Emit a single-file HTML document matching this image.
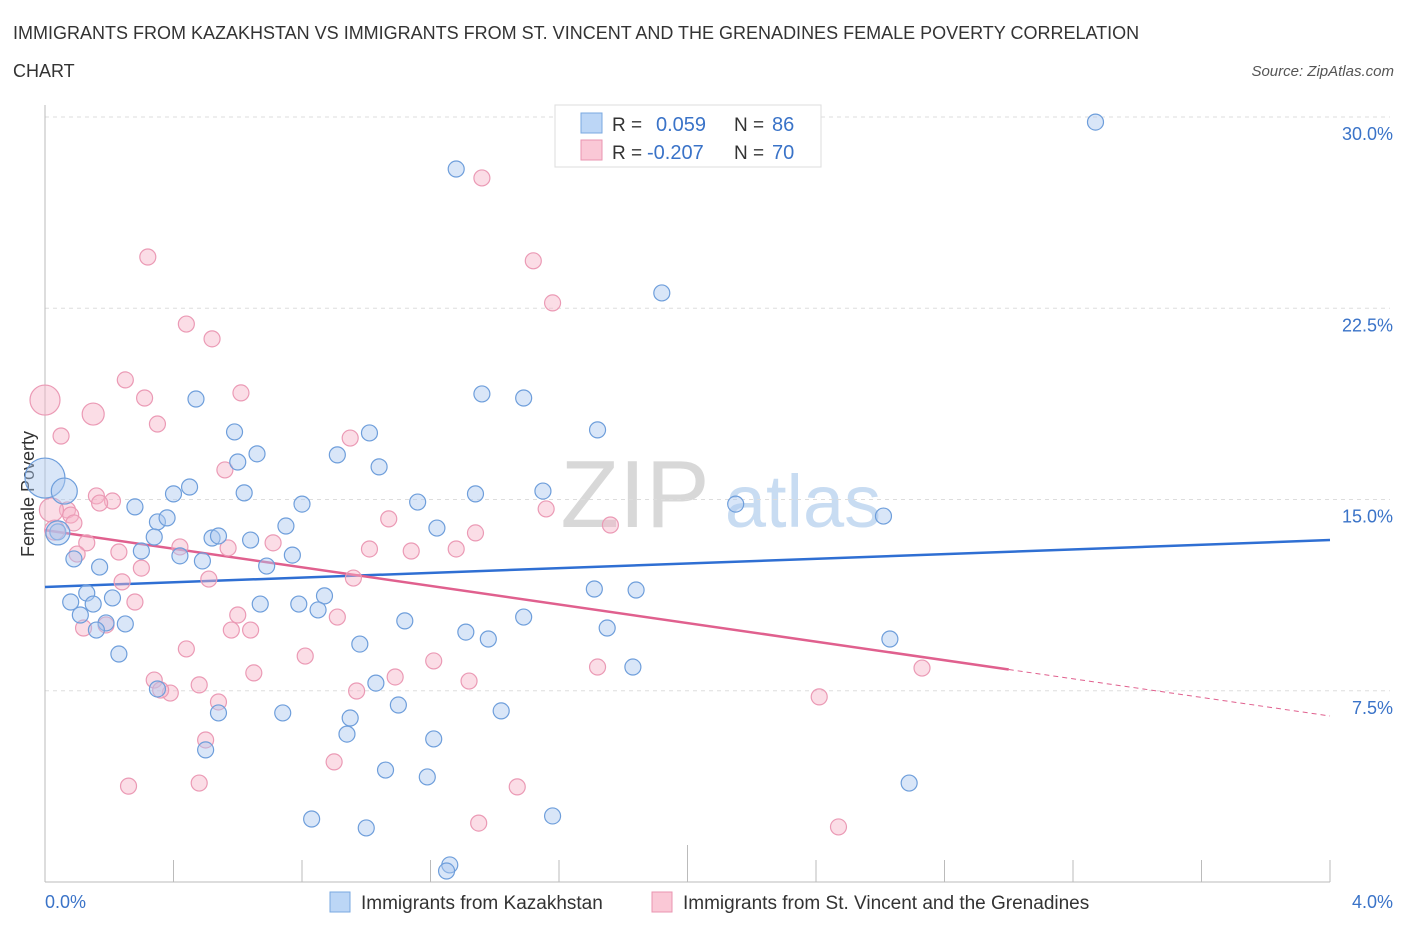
<!DOCTYPE html>
<html><head><meta charset="utf-8"><style>
body{margin:0;background:#fff;font-family:"Liberation Sans",sans-serif;}
svg text{font-family:"Liberation Sans",sans-serif;}
</style></head><body>
<svg id="chart" width="1406" height="930" xmlns="http://www.w3.org/2000/svg">
<text x="13" y="39" font-size="18" fill="#333">IMMIGRANTS FROM KAZAKHSTAN VS IMMIGRANTS FROM ST. VINCENT AND THE GRENADINES FEMALE POVERTY CORRELATION</text>
<text x="13" y="77" font-size="18" fill="#333">CHART</text>
<text x="1394" y="76" font-size="15" fill="#555" font-style="italic" text-anchor="end">Source: ZipAtlas.com</text>
<text transform="translate(34,494) rotate(-90)" font-size="18" fill="#333" text-anchor="middle">Female Poverty</text>
<g id="watermark">
<text x="635" y="527" font-size="96" fill="#d8d8d8" text-anchor="middle" font-family="Liberation Serif, serif">ZIP</text>
<text x="803" y="527" font-size="74" fill="#c8dcf2" text-anchor="middle">atlas</text>
</g>
<g id="grid"></g>
<g id="axes"></g>
<g id="lines"></g>
<g id="points"></g>
<g>
<rect x="555" y="105" width="266" height="62" fill="#fff" stroke="#ddd"/>
<rect x="581" y="113" width="21" height="20" fill="#bcd6f6" stroke="#7aa8e0"/>
<rect x="581" y="140" width="21" height="20" fill="#fac8d6" stroke="#ea94b0"/>
<text x="612" y="131" font-size="19" fill="#333">R =</text>
<text x="656" y="131" font-size="20" fill="#3a73c8">0.059</text>
<text x="734" y="131" font-size="19" fill="#333">N =</text>
<text x="772" y="131" font-size="20" fill="#3a73c8">86</text>
<text x="612" y="159" font-size="19" fill="#333">R =</text>
<text x="647" y="159" font-size="20" fill="#3a73c8">-0.207</text>
<text x="734" y="159" font-size="19" fill="#333">N =</text>
<text x="772" y="159" font-size="20" fill="#3a73c8">70</text>
</g>
<g>
<rect x="330" y="892" width="20" height="20" fill="#bcd6f6" stroke="#7aa8e0"/>
<text x="361" y="909" font-size="19" fill="#333">Immigrants from Kazakhstan</text>
<rect x="652" y="892" width="20" height="20" fill="#fac8d6" stroke="#ea94b0"/>
<text x="683" y="909" font-size="19" fill="#333">Immigrants from St. Vincent and the Grenadines</text>
</g>
</svg>
<script>
const blueX=[3.27,1.28,1.92,0.47,1.36,1.49,1.72,0.59,1.01,0.66,0.60,0.91,1.04,0.45,0.40,0.62,1.55,1.34,1.16,0.80,0.28,2.15,2.61,0.35,0.38,0.75,1.22,0.04,0.34,0.52,0.54,0.64,0.30,0.42,0.77,0.49,0.09,0.17,0.69,1.71,1.84,0.13,0.87,0.08,0.21,0.15,0.67,0.79,0.85,0.11,1.49,1.12,0.19,0.25,0.16,1.75,1.31,1.38,2.63,0.98,0.23,1.83,1.03,0.35,1.10,1.42,0.54,0.74,0.95,0.94,1.21,0.50,1.06,1.19,2.69,0.83,1.58,1.00,1.26,1.25,0.0,0.06,0.04];
const blueY=[29.8,27.96,23.1,18.94,19.14,18.98,17.73,17.65,17.61,16.79,16.47,16.75,16.28,15.49,15.22,15.26,15.33,15.22,14.9,14.82,14.71,14.82,14.35,14.12,14.28,13.96,13.88,13.73,13.53,13.49,13.57,13.41,12.98,12.79,12.82,12.59,12.67,12.35,12.39,11.49,11.45,11.33,11.22,10.98,11.14,10.9,10.9,10.9,10.67,10.47,10.39,10.24,10.16,10.12,9.88,9.96,9.8,9.53,9.53,9.33,8.94,8.43,7.8,7.57,6.94,6.71,6.63,6.63,6.43,5.8,5.61,5.18,4.39,4.12,3.88,2.47,2.59,2.12,0.67,0.43,15.84,15.33,13.69];
const blueSize=[8,8,8,8,8,8,8,8,8,8,8,8,8,8,8,8,8,8,8,8,8,8,8,8,8,8,8,8,8,8,8,8,8,8,8,8,8,8,8,8,8,8,8,8,8,8,8,8,8,8,8,8,8,8,8,8,8,8,8,8,8,8,8,8,8,8,8,8,8,8,8,8,8,8,8,8,8,8,8,8,20,13,12];
const pinkX=[1.36,0.32,1.52,1.58,0.44,0.52,0.25,0.61,0.31,0.0,0.15,0.35,0.05,0.95,0.56,0.16,0.21,0.17,0.07,0.08,1.56,1.76,1.07,0.09,1.34,0.71,0.13,0.42,0.57,1.01,1.14,1.28,0.23,0.10,0.30,0.96,0.51,0.24,0.28,0.60,0.91,0.19,0.12,0.58,0.64,0.44,0.81,1.21,1.72,2.73,0.65,0.34,1.09,1.32,0.48,0.39,0.36,0.97,0.54,2.41,0.50,0.48,0.26,0.90,1.47,1.35,2.47,0.02,0.03];
const pinkY=[27.61,24.51,24.36,22.71,21.88,21.3,19.69,19.18,18.98,18.9,18.35,17.96,17.49,17.41,16.16,15.14,14.94,14.86,14.59,14.39,14.63,14.0,14.24,14.08,13.69,13.3,13.3,13.14,13.1,13.06,12.98,13.06,12.94,12.86,12.31,11.92,11.88,11.77,10.98,10.47,10.39,10.08,9.96,9.88,9.88,9.14,8.86,8.67,8.43,8.39,8.2,7.92,8.04,7.88,7.73,7.41,7.53,7.49,7.06,7.26,5.57,3.88,3.76,4.71,3.73,2.31,2.16,14.59,13.8];
const pinkSize=[8,8,8,8,8,8,8,8,8,15,11,8,8,8,8,8,8,8,8,8,8,8,8,8,8,8,8,8,8,8,8,8,8,8,8,8,8,8,8,8,8,8,8,8,8,8,8,8,8,8,8,8,8,8,8,8,8,8,8,8,8,8,8,8,8,8,8,12,10];
const blueTrend=[11.57,13.41];
const pinkTrend=[13.8,6.51];
const pinkSolidEnd=3.0;
const yTicks=[7.5,15,22.5,30];
const xTickVals=[0,0.4,0.8,1.2,1.6,2.0,2.4,2.8,3.2,3.6,4.0];

const NS="http://www.w3.org/2000/svg";
const X0=45,X1=1330,Y0=882,YPER=25.5;
const sx=v=>X0+(v/4)*(X1-X0);
const sy=v=>Y0-v*YPER;
function mk(tag,attrs,parent){const e=document.createElementNS(NS,tag);for(const k in attrs)e.setAttribute(k,attrs[k]);document.getElementById(parent).appendChild(e);return e;}

yTicks.forEach(t=>{
  const l=mk('line',{x1:X0,x2:X1+60,y1:sy(t),y2:sy(t),stroke:'#ddd','stroke-dasharray':'4,4'},'grid');
  
  
  const tx=mk('text',{x:1393,y:sy(t)+23,'font-size':18,fill:'#3a73c8','text-anchor':'end'},'axes');
  tx.textContent=t.toFixed(1)+'%';
  
  
});
const ya=mk('line',{x1:X0,x2:X0,y1:105,y2:Y0,stroke:'#bbb'},'axes');


const xa=mk('line',{x1:X0,x2:X1,y1:Y0,y2:Y0,stroke:'#bbb'},'axes');


xTickVals.forEach((t,i)=>{
  const tk=mk('line',{x1:sx(t),x2:sx(t),y1:i===5?845:860,y2:Y0,stroke:'#bbb'},'axes');
  
  
});
const xl0=mk('text',{x:45,y:908,'font-size':18,fill:'#3a73c8'},'axes');xl0.textContent='0.0%';


const xl1=mk('text',{x:1393,y:908,'font-size':18,fill:'#3a73c8','text-anchor':'end'},'axes');xl1.textContent='4.0%';



const bl=mk('line',{x1:sx(0),y1:sy(blueTrend[0]),x2:sx(4),y2:sy(blueTrend[1]),stroke:'#2f6fd3','stroke-width':2.5},'lines');


const pAt=x=>pinkTrend[0]+(pinkTrend[1]-pinkTrend[0])*x/4;
const pl=mk('line',{x1:sx(0),y1:sy(pinkTrend[0]),x2:sx(pinkSolidEnd),y2:sy(pAt(pinkSolidEnd)),stroke:'#e0608e','stroke-width':2.5},'lines');


const pd=mk('line',{x1:sx(pinkSolidEnd),y1:sy(pAt(pinkSolidEnd)),x2:sx(4),y2:sy(pinkTrend[1]),stroke:'#e0608e','stroke-width':1,'stroke-dasharray':'5,4'},'lines');



pinkX.forEach((x,i)=>{
  const c=mk('circle',{cx:sx(x),cy:sy(pinkY[i]),r:pinkSize[i],fill:'rgba(246,180,200,0.45)',stroke:'#eb9ab5','stroke-width':1.2},'points');
  
  
});
blueX.forEach((x,i)=>{
  const c=mk('circle',{cx:sx(x),cy:sy(blueY[i]),r:blueSize[i],fill:'rgba(170,200,240,0.45)',stroke:'#6e9edb','stroke-width':1.2},'points');
  
  
});
</script>
</body></html>
